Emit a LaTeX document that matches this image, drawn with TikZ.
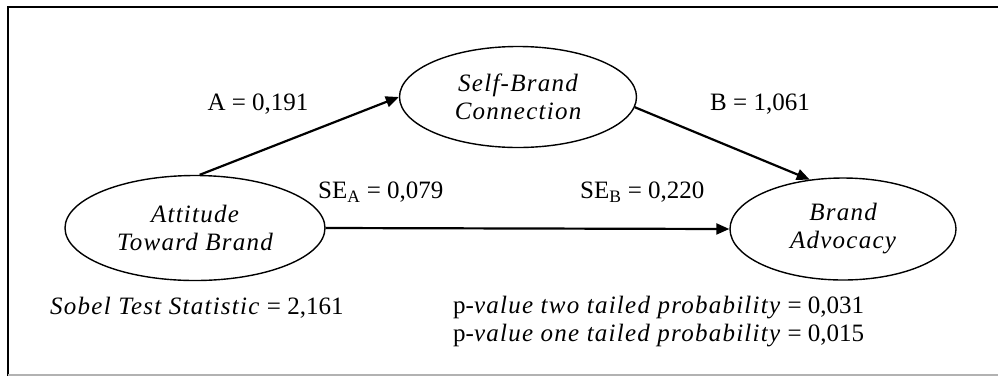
\documentclass[tikz,border=0pt]{standalone}
\usepackage{fontspec}
\setmainfont{Liberation Serif}[ItalicFeatures={LetterSpace=5}]
\usetikzlibrary{shapes.geometric,arrows.meta}
\begin{document}
\begin{tikzpicture}[x=1pt,y=-1pt,
  every node/.style={font=\fontsize{25}{28}\selectfont},
  latent/.style={draw,ellipse,line width=1.4pt,inner sep=0pt,align=center,font=\fontsize{25}{28}\selectfont\itshape},
  path/.style={line width=2.2pt,-{Triangle[length=13pt,width=11pt]}},
  lbl/.style={inner sep=0pt}]
\useasboundingbox (0,0) rectangle (998,376);
\draw[line width=2.6pt] (8,376) -- (8,7) -- (998,7);
\draw[line width=1.5pt,gray!60] (8,375) -- (998,375);
\node[latent,minimum width=237pt,minimum height=101pt] (sb) at (518,97) {Self-Brand\\Connection};
\node[latent,minimum width=260pt,minimum height=105pt] (att) at (195,228) {Attitude\\Toward Brand};
\node[latent,minimum width=226pt,minimum height=102pt] (ba) at (843,229) {Brand\\Advocacy};
\draw[path] (att.85) -- (sb.west);
\draw[path] (sb.-5) -- (ba.124);
\draw[path] (att.east) -- (ba.west);
\node[lbl] (la) at (258,104) {A = 0,191};
\node[lbl] (lb) at (760,104) {B = 1,061};
\node[lbl,anchor=west] (sea) at (318,192) {SE\textsubscript{A} = 0,079};
\node[lbl,anchor=west] (seb) at (580,192) {SE\textsubscript{B} = 0,220};
\node[lbl,anchor=west] (sobel) at (50,308) {\textit{Sobel Test Statistic} = 2,161};
\node[lbl,anchor=west,align=left] (pv) at (453,322) {p-\textit{value two tailed probability} = 0,031\\p-\textit{value one tailed probability} = 0,015};
\end{tikzpicture}
\end{document}
